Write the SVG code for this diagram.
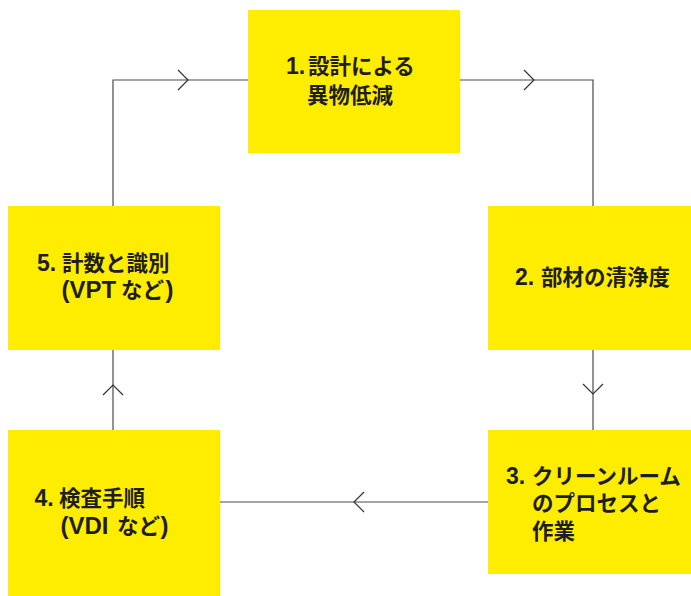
<svg xmlns="http://www.w3.org/2000/svg" width="691" height="596" viewBox="0 0 691 596">
<style>
.box{fill:#FFED00}
.t{font-family:"Liberation Sans","Noto Sans CJK JP",sans-serif;font-weight:bold;font-size:21.5px;fill:#1e1e1e}
.n{font-size:23px}
.m{font-size:24px}
.ln{fill:none;stroke:#4a4a4a;stroke-width:1.2}
.ah{fill:none;stroke:#333;stroke-width:1.2}
</style>
<rect width="691" height="596" fill="#fff"/>
<g id="connectors">
<path class="ln" d="M248,80 H113 V206"/>
<path class="ln" d="M460,80 H593 V206"/>
<path class="ln" d="M593,350 V430"/>
<path class="ln" d="M488,502 H220"/>
<path class="ln" d="M113,430 V350"/>
<path class="ah" d="M178,70 L188,80 L178,90"/>
<path class="ah" d="M524,70 L534,80 L524,90"/>
<path class="ah" d="M583,384 L593,394 L603,384"/>
<path class="ah" d="M364,492 L354,502 L364,512"/>
<path class="ah" d="M103,395 L113,385 L123,395"/>
</g>
<g id="node1">
<rect class="box" x="248" y="10" width="212" height="143"/>
<text class="t" y="73.5"><tspan class="n" x="286">1.</tspan><tspan x="308">設計による</tspan></text>
<text class="t" x="307" y="102.5">異物低減</text>
</g>
<g id="node2">
<rect class="box" x="488" y="206" width="203" height="144"/>
<text class="t" y="284.5"><tspan class="n" x="515">2.</tspan><tspan x="541">部材の清浄度</tspan></text>
</g>
<g id="node3">
<rect class="box" x="488" y="430" width="203" height="144"/>
<text class="t" y="483.5"><tspan class="n" x="506">3.</tspan><tspan x="532">クリーンルーム</tspan></text>
<text class="t" x="532" y="511">のプロセスと</text>
<text class="t" x="532" y="538.5">作業</text>
</g>
<g id="node4">
<rect class="box" x="8" y="430" width="212" height="166"/>
<text class="t" y="505.5"><tspan class="n" x="34.5">4.</tspan><tspan x="59">検査手順</tspan></text>
<text class="t" y="534"><tspan class="m" x="60.5">(VDI</tspan><tspan x="117">など</tspan><tspan class="m" x="160.5">)</tspan></text>
</g>
<g id="node5">
<rect class="box" x="8" y="206" width="212" height="144"/>
<text class="t" y="270.5"><tspan class="n" x="37">5.</tspan><tspan x="62">計数と識別</tspan></text>
<text class="t" y="298"><tspan class="m" x="61.5">(VPT</tspan><tspan x="121">など</tspan><tspan class="m" x="165.5">)</tspan></text>
</g>
</svg>
